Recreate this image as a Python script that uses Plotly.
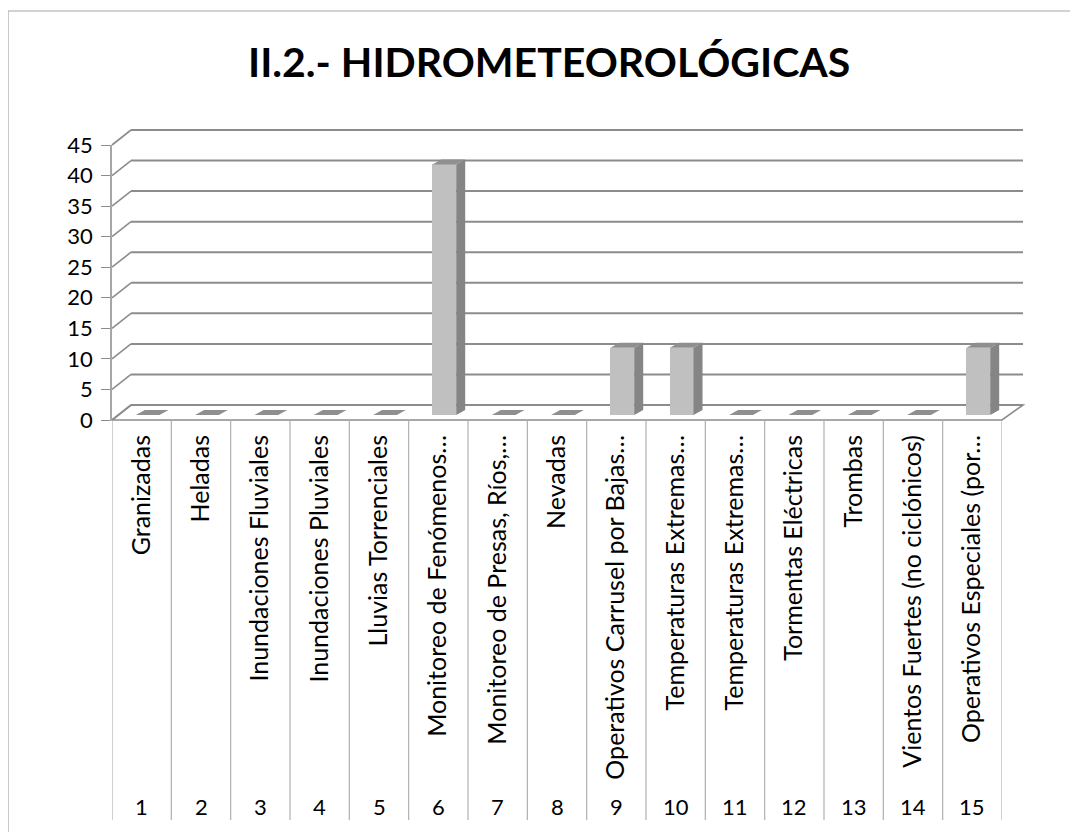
import plotly.graph_objects as go

# ---------------- data ----------------
categories = [
    "Granizadas", "Heladas", "Inundaciones Fluviales", "Inundaciones Pluviales",
    "Lluvias Torrenciales", "Monitoreo de Fenómenos…", "Monitoreo de Presas, Ríos,…",
    "Nevadas", "Operativos Carrusel por Bajas…", "Temperaturas Extremas…",
    "Temperaturas Extremas…", "Tormentas Eléctricas", "Trombas",
    "Vientos Fuertes (no ciclónicos)", "Operativos Especiales (por…",
]
numbers = [str(i) for i in range(1, 16)]
values = [0, 0, 0, 0, 0, 41, 0, 0, 11, 11, 0, 0, 0, 0, 11]
y_ticks = [0, 5, 10, 15, 20, 25, 30, 35, 40, 45]
title_text = "II.2.- HIDROMETEOROLÓGICAS"

# ---------------- geometry (page pixels) ----------------
OFF = 8                        # page body margin
W, H = 1078 - OFF, 832 - OFF   # figure size
FX0, FX1 = 112, 1002           # front plane x extent (page px)
FY0, FYT = 420, 145            # front plane: y of value 0 and of value 45
BDX, BDY = 19, -15             # back plane offset
MDX, MDY = 6, -5               # bar front plane offset
DDX, DDY = 9, -5               # bar depth
YMAX = 45
N = len(categories)
idx = list(range(1, N + 1))

def px(x):
    return (x - OFF) / W

def py(y):
    return 1 - (y - OFF) / H

unit_x = (FX1 - FX0) / N          # px per category
unit_y = (FY0 - FYT) / YMAX       # px per value unit

GRID = "#8c8c8c"
FONT = "Lato"

fig = go.Figure()

# bars (front faces) on the middle-depth plane
fig.add_trace(go.Bar(
    x=idx, y=values, xaxis="x3", yaxis="y3", width=0.4,
    marker=dict(color="#c0c0c0", line=dict(width=0)),
    hoverinfo="skip", showlegend=False,
))
# invisible trace to hold front axis
fig.add_trace(go.Scatter(x=idx, y=[0] * N, xaxis="x", yaxis="y", mode="markers",
                         marker=dict(opacity=0), hoverinfo="skip", showlegend=False))

shapes = []

# chart border
shapes.append(dict(type="rect", xref="paper", yref="paper",
                   x0=px(8), y0=-0.05, x1=1.05, y1=py(11),
                   line=dict(color="#a6a6a6", width=1.2), layer="below"))

# floor parallelogram
floor = (f"M {px(FX0)},{py(FY0)} L {px(FX1)},{py(FY0)} "
         f"L {px(FX1 + BDX + 2)},{py(FY0 + BDY)} L {px(FX0 + BDX)},{py(FY0 + BDY)} Z")
shapes.append(dict(type="path", xref="paper", yref="paper", path=floor,
                   fillcolor="white", line=dict(color=GRID, width=1.6), layer="below"))

# left wall diagonals and back-plane gridlines
for v in y_ticks:
    yf = FY0 - v * unit_y
    shapes.append(dict(type="line", xref="paper", yref="paper",
                       x0=px(FX0), y0=py(yf), x1=px(FX0 + BDX), y1=py(yf + BDY),
                       line=dict(color=GRID, width=1.6), layer="below"))
    shapes.append(dict(type="line", xref="paper", yref="paper",
                       x0=px(FX0 + BDX), y0=py(yf + BDY), x1=px(FX1 + BDX + 2), y1=py(yf + BDY),
                       line=dict(color=GRID, width=2), layer="below"))

# table dividers below the axis
for k in range(N + 1):
    shapes.append(dict(type="line", xref="x", yref="paper",
                       x0=k + 0.5, x1=k + 0.5, y0=py(FY0), y1=py(820),
                       line=dict(color="#b0b0b0", width=1.2), layer="below"))

# 3D bar side and top faces (in bar-plane data units)
ddx = DDX / unit_x
ddy = -DDY / unit_y
hw = 0.2
for i, v in zip(idx, values):
    if v > 0:
        side = (f"M {i + hw},0 L {i + hw + ddx},{ddy} L {i + hw + ddx},{v + ddy} "
                f"L {i + hw},{v} Z")
        shapes.append(dict(type="path", xref="x3", yref="y3", path=side,
                           fillcolor="#858585", line=dict(width=0), layer="above"))
    top = (f"M {i - hw},{v} L {i + hw},{v} L {i + hw + ddx},{v + ddy} "
           f"L {i - hw + ddx},{v + ddy} Z")
    shapes.append(dict(type="path", xref="x3", yref="y3", path=top,
                       fillcolor="#8f8f8f", line=dict(width=0), layer="above"))

annotations = []
for i, n in zip(idx, numbers):
    annotations.append(dict(x=i, y=py(806), xref="x", yref="paper", text=n,
                            showarrow=False, font=dict(size=22, color="black", family=FONT),
                            xanchor="center", yanchor="middle"))
annotations.append(dict(x=px(549), y=py(62), xref="paper", yref="paper", text=f"<b>{title_text}</b>",
                        showarrow=False, font=dict(size=41, color="black", family=FONT),
                        xanchor="center", yanchor="middle"))

fig.update_layout(
    width=W, height=H,
    margin=dict(l=0, r=0, t=0, b=0, autoexpand=False),
    paper_bgcolor="white", plot_bgcolor="rgba(0,0,0,0)",
    showlegend=False,
    font=dict(family=FONT, color="black"),
    bargap=0,
    xaxis=dict(domain=[px(FX0), px(FX1)], range=[0.5, N + 0.5], anchor="y",
               tickmode="array", tickvals=idx, ticktext=categories, tickangle=-90,
               ticks="", showline=False, showgrid=False, zeroline=False,
               tickfont=dict(size=25, color="black", family=FONT),
               ticklabelstandoff=9, fixedrange=True, automargin=False),
    yaxis=dict(domain=[py(FY0), py(FYT)], range=[0, YMAX], anchor="x",
               tickmode="array", tickvals=y_ticks,
               ticks="outside", ticklen=9, tickcolor=GRID, tickwidth=1.2,
               showline=True, linecolor="#a6a6a6", linewidth=1.5,
               showgrid=False, zeroline=False,
               tickfont=dict(size=22, color="black", family=FONT),
               ticklabelstandoff=4, fixedrange=True, automargin=False),
    xaxis3=dict(domain=[px(FX0 + MDX), px(FX1 + MDX)], range=[0.5, N + 0.5], anchor="y3",
                visible=False, fixedrange=True),
    yaxis3=dict(domain=[py(FY0 + MDY), py(FYT + MDY)], range=[0, YMAX], anchor="x3",
                visible=False, fixedrange=True),
    shapes=shapes,
    annotations=annotations,
)

fig.write_html("out.html")
